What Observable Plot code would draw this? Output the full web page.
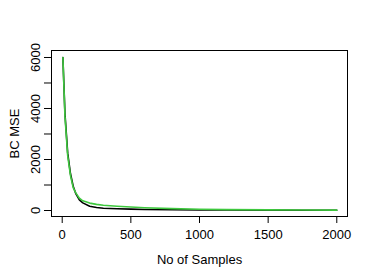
<!DOCTYPE html>
<html>
<head>
<meta charset="utf-8">
<script src="https://cdn.jsdelivr.net/npm/d3@7"></script>
<script src="https://cdn.jsdelivr.net/npm/@observablehq/plot@0.6"></script>
<style>
  html, body { margin: 0; padding: 0; background: #fff; }
</style>
</head>
<body>
<div id="chart"></div>
<script>
const samples = [5, 20, 40, 60, 80, 100, 125, 150, 200, 250, 300, 400, 500, 600, 800, 1000, 1200, 1500, 1750, 2000];
const blackMSE = [6000, 3800, 2250, 1450, 950, 650, 420, 300, 170, 120, 90, 70, 55, 42, 30, 22, 18, 14, 12, 10];
const greenMSE = [6000, 3700, 2150, 1380, 900, 680, 480, 380, 290, 240, 205, 165, 135, 110, 75, 50, 35, 24, 19, 16];
const xTicks = [0, 500, 1000, 1500, 2000];
const yTicks = [0, 1000, 2000, 3000, 4000, 5000, 6000];
const yLabels = [0, 2000, 4000, 6000];

const blackData = samples.map((s, i) => ({x: s, y: blackMSE[i]}));
const greenData = samples.map((s, i) => ({x: s, y: greenMSE[i]}));

const chart = Plot.plot({
  width: 374,
  height: 280,
  marginLeft: 51,
  marginRight: 27,
  marginTop: 50,
  marginBottom: 64,
  style: {fontSize: "13px", fontFamily: "'Liberation Sans', Arial, sans-serif", color: "black", background: "white"},
  x: {domain: [-78, 2078]},
  y: {domain: [-235, 6274]},
  marks: [
    Plot.frame({stroke: "black"}),
    Plot.axisX({ticks: xTicks, tickSize: 7, tickPadding: 6, tickFormat: d => String(d),
      label: "No of Samples", labelAnchor: "center", labelArrow: "none", labelOffset: 47}),
    Plot.axisY({ticks: yTicks, tickSize: 7, tickPadding: 5, tickRotate: -90, textAnchor: "middle",
      tickFormat: d => yLabels.includes(d) ? String(d) : "",
      label: "BC MSE", labelAnchor: "center", labelArrow: "none", labelOffset: 42}),
    Plot.ruleX([-78], {y1: 0, y2: 6000, stroke: "black"}),
    Plot.line(blackData, {x: "x", y: "y", stroke: "black", strokeWidth: 1.6}),
    Plot.line(greenData, {x: "x", y: "y", stroke: "#3ec83e", strokeWidth: 1.6})
  ]
});
document.getElementById("chart").appendChild(chart);
</script>
</body>
</html>
